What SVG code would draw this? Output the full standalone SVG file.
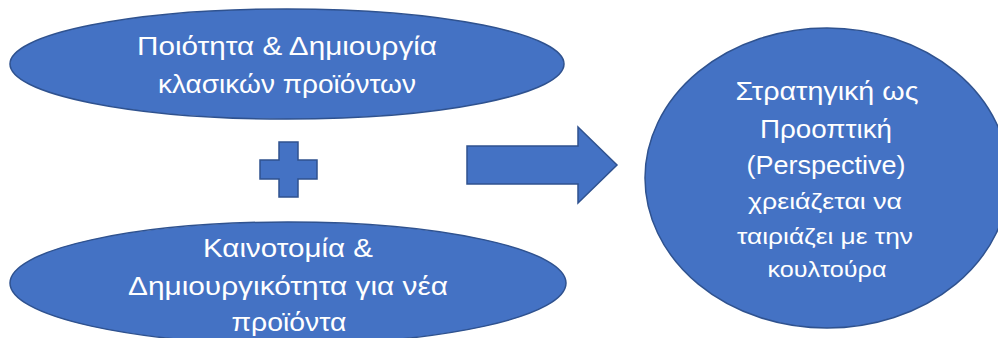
<svg xmlns="http://www.w3.org/2000/svg" width="998" height="338" viewBox="0 0 998 338">
  <style>
    .shape { fill: #4472C4; stroke: #2F528F; stroke-width: 1.5; }
    .lbl { fill: #FFFFFF; font-family: "Liberation Sans", "DejaVu Sans", sans-serif; font-size: 26px; text-anchor: middle; }
    .sm { font-size: 22.5px; }
  </style>
  <rect width="998" height="338" fill="#FFFFFF"/>
  <g id="node-quality">
    <ellipse class="shape" cx="287" cy="64" rx="277" ry="55"/>
    <text class="lbl" x="287" y="55" textLength="300" lengthAdjust="spacingAndGlyphs">Ποιότητα &amp; Δημιουργία</text>
    <text class="lbl" x="287" y="93" textLength="258" lengthAdjust="spacingAndGlyphs">κλασικών προϊόντων</text>
  </g>
  <g id="node-plus">
    <path class="shape" d="M279,142 H298 V160 H317 V179 H298 V197 H279 V179 H260 V160 H279 Z"/>
  </g>
  <g id="node-innovation">
    <ellipse class="shape" cx="288" cy="283" rx="278" ry="61"/>
    <text class="lbl" x="288" y="257" textLength="170" lengthAdjust="spacingAndGlyphs">Καινοτομία &amp;</text>
    <text class="lbl" x="288" y="295" textLength="320" lengthAdjust="spacingAndGlyphs">Δημιουργικότητα για νέα</text>
    <text class="lbl" x="289" y="331" textLength="115" lengthAdjust="spacingAndGlyphs">προϊόντα</text>
  </g>
  <g id="connectors">
    <path id="arrow" class="shape" d="M467,146 H578 V127 L617,165 L578,203 V184 H467 Z"/>
  </g>
  <g id="node-strategy">
    <ellipse class="shape" cx="827" cy="178" rx="182" ry="150"/>
    <text class="lbl" x="827" y="100" textLength="183" lengthAdjust="spacingAndGlyphs">Στρατηγική ως</text>
    <text class="lbl" x="826" y="138" textLength="132" lengthAdjust="spacingAndGlyphs">Προοπτική</text>
    <text class="lbl" x="826" y="174" textLength="159" lengthAdjust="spacingAndGlyphs">(Perspective)</text>
    <text class="lbl sm" x="825" y="209" textLength="154" lengthAdjust="spacingAndGlyphs">χρειάζεται να</text>
    <text class="lbl sm" x="825" y="244" textLength="176" lengthAdjust="spacingAndGlyphs">ταιριάζει με την</text>
    <text class="lbl sm" x="827" y="277" textLength="119" lengthAdjust="spacingAndGlyphs">κουλτούρα</text>
  </g>
</svg>
